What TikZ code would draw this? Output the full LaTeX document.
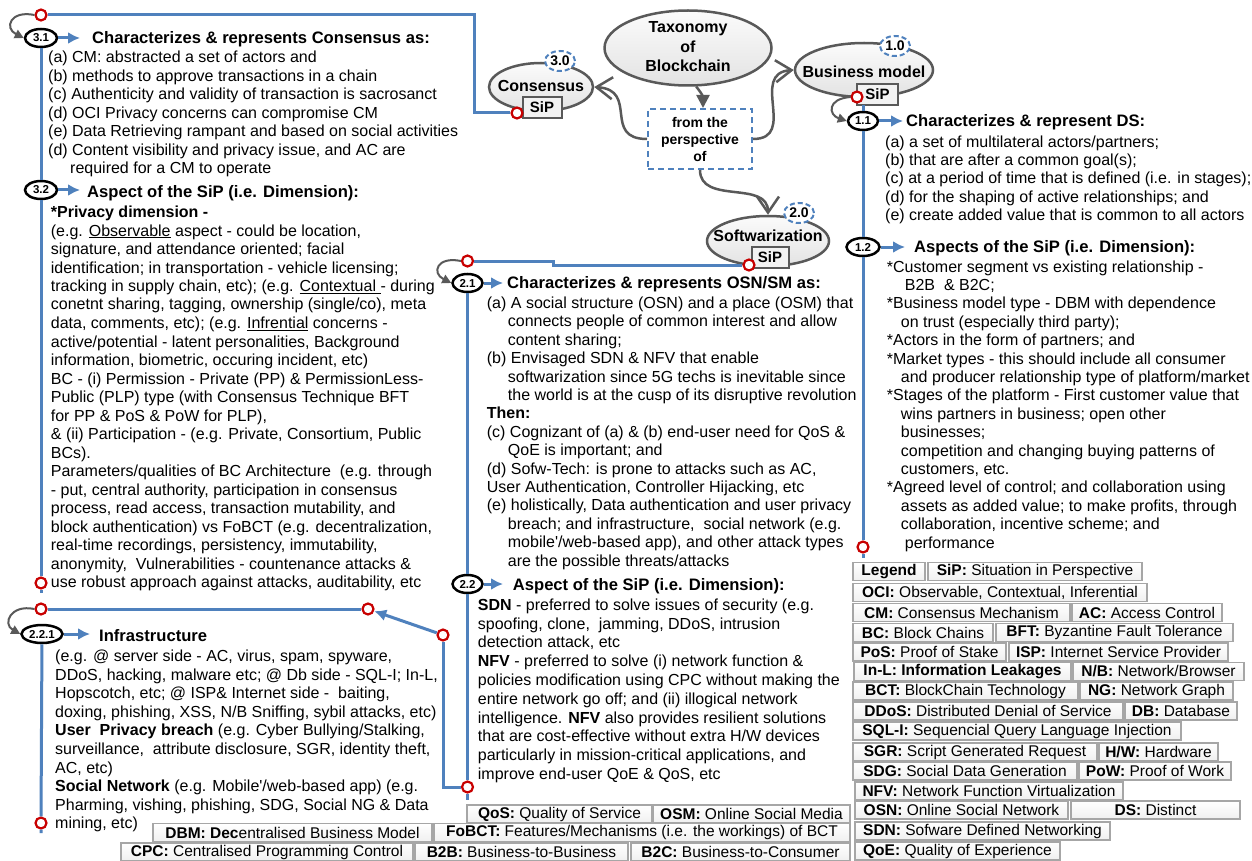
\documentclass[tikz,border=0pt]{standalone}
\usepackage{fontspec}
\setmainfont{Liberation Sans}
\usetikzlibrary{shapes.geometric,arrows.meta}

\definecolor{lnblue}{RGB}{79,129,189}
\definecolor{dkgray}{RGB}{89,89,89}
\definecolor{rcred}{RGB}{200,0,0}

% a left-aligned block of lines whose base anchor is the first baseline
\newcommand\tblock[2][18.5pt]{\vtop{\baselineskip=#1\relax\lineskiplimit=-100pt\lineskip=0pt\let\\\cr\halign{##\hfil\cr#2\crcr}}}
\newcommand\blkindent{\hspace*{21pt}}

\begin{document}
\begin{tikzpicture}[x=1pt,y=-1pt,
  bl/.style={draw=lnblue, line width=3pt},
  barrow/.style={draw=lnblue, line width=3pt, -{Latex[length=12pt,width=12pt]}},
  numnode/.style={ellipse, draw=black, line width=2.5pt, fill=white, inner sep=0pt,
    minimum width=30pt, minimum height=18pt, font=\fontsize{11.5}{11.5}\bfseries\selectfont},
  rc/.style={circle, draw=rcred, line width=2.2pt, fill=white, minimum size=11pt, inner sep=0pt},
  gloop/.style={draw=dkgray, line width=2pt, -{Triangle[length=9pt,width=9pt]}},
  gconn/.style={draw=dkgray, line width=2.5pt},
  mainell/.style={ellipse, draw=dkgray, line width=2.5pt, top color=gray!3, bottom color=gray!22, inner sep=0pt},
  elltxt/.style={inner sep=0pt, align=center, font=\fontsize{16}{19.5}\bfseries\selectfont},
  sip/.style={rectangle, draw=dkgray, line width=2pt, fill=gray!10, inner sep=0pt,
    minimum width=39pt, minimum height=21pt, font=\fontsize{15}{15}\bfseries\selectfont},
  dnum/.style={ellipse, draw=lnblue, dash pattern=on 5pt off 3pt, line width=2pt, fill=white,
    minimum width=30pt, minimum height=20pt, inner sep=0pt, font=\fontsize{14}{14}\bfseries\selectfont},
  persp/.style={rectangle, draw=lnblue, dash pattern=on 6pt off 4pt, line width=2pt, fill=white,
    minimum width=104pt, minimum height=60pt, inner sep=0pt, align=center,
    font=\fontsize{14}{17}\bfseries\selectfont},
  txt/.style={inner sep=0pt, anchor=base west, font=\fontsize{16}{18.5}\selectfont},
  ttl/.style={inner sep=0pt, anchor=base west, font=\fontsize{16.6}{18.5}\bfseries\selectfont},
  leg/.style={rectangle, draw=gray!70, line width=1.5pt, top color=white, bottom color=gray!12,
    inner sep=0pt, minimum height=18pt, font=\fontsize{15.5}{16}\selectfont},
]
\fill[white] (0,0) rectangle (1252,861);
\path[use as bounding box] (0,0) rectangle (1252,861);

% ---------- central taxonomy ----------
\node[mainell, minimum width=167pt, minimum height=75pt] (tax) at (688,48) {};
\node[elltxt] (taxT) at (688,47) {Taxonomy\\of\\Blockchain};
\node[persp] (persp) at (700,139) {from the\\perspective\\of};

\node[mainell, minimum width=104pt, minimum height=48pt] (cons) at (541,87) {};
\node[elltxt] (consT) at (541,85.5) {Consensus};
\node[sip] (sipC) at (542,107.5) {SiP};
\node[dnum] (d30) at (560,61) {3.0};

\node[mainell, minimum width=138pt, minimum height=54pt] (biz) at (864,70) {};
\node[elltxt] (bizT) at (864,71.5) {Business model};
\node[sip, minimum width=41pt] (sipB) at (877.5,94.5) {SiP};
\node[dnum] (d10) at (895,46) {1.0};

\node[mainell, minimum width=122pt, minimum height=50pt] (soft) at (768,241) {};
\node[elltxt] (softT) at (768,236) {Softwarization};
\node[sip, minimum width=37pt] (sipS) at (770,257) {SiP};
\node[dnum] (d20) at (799,213) {2.0};

\draw[gconn, -{Triangle[length=13pt,width=13pt]}] (tax.-78) .. controls +(8,10) and +(0,-10) .. ([xshift=3pt]persp.north);
\draw[gconn, -{Straight Barb[length=16pt,width=22pt]}] (persp.west) .. controls +(-45,0) and +(45,3) .. (cons.east);
\draw[gconn, -{Straight Barb[length=16pt,width=22pt]}] (persp.east) .. controls +(45,0) and +(-45,3) .. (biz.west);
\draw[gconn, -{Straight Barb[length=16pt,width=22pt]}] (persp.south) .. controls +(0,35) and +(0,-35) .. (soft.north);

% ---------- red link points ----------
\node[rc] (rcC) at (517,113) {};
\node[rc] (rcS) at (749,265) {};
\node[rc] (rcB) at (857,97) {};
\node[rc] (rc31) at (41,15) {};
\node[rc] (rcL) at (41,583) {};
\node[rc] (rc221) at (41,609) {};
\node[rc] (rcA) at (443,635) {};
\node[rc] (rcX) at (368,609) {};
\node[rc] (rcM) at (467.5,787) {};
\node[rc] (rc221b) at (41,823) {};
\node[rc] (rc21) at (467.5,261) {};
\node[rc] (rcR) at (863,547) {};

% ---------- numbered steps ----------
\node[numnode, minimum width=32pt] (n31) at (41,38) {3.1};
\node[numnode, minimum width=32pt] (n32) at (41,190) {3.2};
\node[numnode, minimum width=41pt] (n221) at (42,634) {2.2.1};
\node[numnode] (n21) at (467.5,283) {2.1};
\node[numnode] (n22) at (467.5,584) {2.2};
\node[numnode] (n11) at (863,121) {1.1};
\node[numnode, minimum width=33pt] (n12) at (863,247) {1.2};

\coordinate (c1) at (474,60);
\coordinate (c2) at (553,265);
\coordinate (bzTop) at (863,105);
\coordinate (endL) at (41,593);
\coordinate (end221) at (41,833);
\coordinate (endM) at (467.5,800);
\coordinate (endR) at (863,558);
\coordinate (a31) at (80,38);
\coordinate (a32) at (80,190);
\coordinate (a221) at (90,634);
\coordinate (a21) at (503,283);
\coordinate (a22) at (503,584);
\coordinate (a11) at (903,121);
\coordinate (a12) at (905,247);

% blue routing lines
\draw[bl] (rc31) -| (c1) |- (rcC);
\draw[bl] (rcS) -- (c2) |- (rc21);
\draw[bl] (n31) -- (n32) -- (rcL) -- (endL);
\draw[bl] (n221) -- (rc221b) -- (end221);
\draw[bl] (n21) -- (n22) -- (rcM) -- (endM);
\draw[bl] (bzTop) -- (n11) -- (n12) -- (rcR) -- (endR);
\draw[bl] (rcM) -| (rcA);
\draw[barrow] (rcA) -- (rcX);
\draw[bl] (rcX) -- (rc221);

\draw[barrow] (n31) -- (a31);
\draw[barrow] (n32) -- (a32);
\draw[barrow] (n221) -- (a221);
\draw[barrow] (n21) -- (a21);
\draw[barrow] (n22) -- (a22);
\draw[barrow] (n11) -- (a11);
\draw[barrow] (n12) -- (a12);

% grey self loops from a link point to its first step
\draw[gloop] (rc31.west) .. controls +(-24,-5) and +(-20,-10) .. (n31.west);
\draw[gloop] (rc221.west) .. controls +(-24,-5) and +(-18,-10) .. (n221.west);
\draw[gloop] (rc21.west) .. controls +(-24,-5) and +(-20,-10) .. (n21.west);
\draw[gloop] (rcB.west) .. controls +(-24,2) and +(-18,-6) .. (n11.west);

% ---------- headings ----------
\node[ttl] (t31) at (92,44) {Characterizes \& represents Consensus as:};
\node[ttl] (t32) at (87,197) {Aspect of the SiP (i.e. Dimension):};
\node[ttl] (t221) at (99,641) {Infrastructure};
\node[ttl] (t21) at (507,288.3) {Characterizes \& represents OSN/SM as:};
\node[ttl] (t22) at (512.7,590) {Aspect of the SiP (i.e. Dimension):};
\node[ttl] (t11) at (906,126.5) {Characterizes \& represent DS:};
\node[ttl] (t12) at (914,252.5) {Aspects of the SiP (i.e. Dimension):};

% ---------- text blocks ----------
\node[txt] (b31) at (48,63) {\tblock{%
(a) CM: abstracted a set of actors and\\
(b) methods to approve transactions in a chain\\
(c) Authenticity and validity of transaction is sacrosanct\\
(d) OCI Privacy concerns can compromise CM\\
(e) Data Retrieving rampant and based on social activities\\
(d) Content visibility and privacy issue, and AC are\\
\hspace*{22pt}required for a CM to operate}};

\node[txt] (b32) at (50.7,217.5) {\tblock{%
{\bfseries *Privacy dimension -}\\
(e.g. \underline{Observable} aspect - could be location,\\
signature, and attendance oriented; facial\\
identification; in transportation - vehicle licensing;\\
tracking in supply chain, etc); (e.g. \underline{Contextual }- during\\
conetnt sharing, tagging, ownership (single/co), meta\\
data, comments, etc); (e.g. \underline{Infrential} concerns -\\
active/potential - latent personalities, Background\\
information, biometric, occuring incident, etc)\\
BC - (i) Permission - Private (PP) \& PermissionLess-\\
Public (PLP) type (with Consensus Technique BFT\\
for PP \& PoS \& PoW for PLP),\\
\& (ii) Participation - (e.g. Private, Consortium, Public\\
BCs).\\
Parameters/qualities of BC Architecture\ \ (e.g. through\\
- put, central authority, participation in consensus\\
process, read access, transaction mutability, and\\
block authentication) vs FoBCT (e.g. decentralization,\\
real-time recordings, persistency, immutability,\\
anonymity,\ \ Vulnerabilities - countenance attacks \&\\
use robust approach against attacks, auditability, etc}};

\node[txt] (b221) at (55,661.5) {\tblock[18.6pt]{%
(e.g. @ server side - AC, virus, spam, spyware,\\
DDoS, hacking, malware etc; @ Db side - SQL-I; In-L,\\
Hopscotch, etc; @ ISP\& Internet side -\ \ baiting,\\
doxing, phishing, XSS, N/B Sniffing, sybil attacks, etc)\\
{\bfseries User\ \ Privacy breach} (e.g. Cyber Bullying/Stalking,\\
surveillance,\ \ attribute disclosure, SGR, identity theft,\\
AC, etc)\\
{\bfseries Social Network} (e.g. Mobile\textquotesingle/web-based app) (e.g.\\
Pharming, vishing, phishing, SDG, Social NG \& Data\\
mining, etc)}};

\node[txt] (b21) at (486.7,308.5) {\tblock[18.4pt]{%
(a) A social structure (OSN) and a place (OSM) that\\
\blkindent connects people of common interest and allow\\
\blkindent content sharing;\\
(b) Envisaged SDN \& NFV that enable\\
\blkindent softwarization since 5G techs is inevitable since\\
\blkindent the world is at the cusp of its disruptive revolution\\
{\bfseries Then:}\\
(c) Cognizant of (a) \& (b) end-user need for QoS \&\\
\blkindent QoE is important; and\\
(d) Sofw-Tech: is prone to attacks such as AC,\\
User Authentication, Controller Hijacking, etc\\
(e) holistically, Data authentication and user privacy\\
\blkindent breach; and infrastructure,\ \ social network (e.g.\\
\blkindent mobile\textquotesingle/web-based app), and other attack types\\
\blkindent are the possible threats/attacks}};

\node[txt] (b22) at (477.7,610.3) {\tblock[18.8pt]{%
{\bfseries SDN} - preferred to solve issues of security (e.g.\\
spoofing, clone,\ \ jamming, DDoS, intrusion\\
detection attack, etc\\
{\bfseries NFV} - preferred to solve (i) network function \&\\
policies modification using CPC without making the\\
entire network go off; and (ii) illogical network\\
intelligence. {\bfseries NFV} also provides resilient solutions\\
that are cost-effective without extra H/W devices\\
particularly in mission-critical applications, and\\
improve end-user QoE \& QoS, etc}};

\node[txt] (b11) at (885,147.5) {\tblock[18.2pt]{%
(a) a set of multilateral actors/partners;\\
(b) that are after a common goal(s);\\
(c) at a period of time that is defined (i.e. in stages);\\
(d) for the shaping of active relationships; and\\
(e) create added value that is common to all actors}};

\node[txt] (b12) at (886.7,272) {\tblock[18.4pt]{%
*Customer segment vs existing relationship -\\
\hspace*{18pt}B2B\ \ \& B2C;\\
*Business model type - DBM with dependence\\
\hspace*{14pt}on trust (especially third party);\\
*Actors in the form of partners; and\\
*Market types - this should include all consumer\\
\hspace*{14pt}and producer relationship type of platform/market\\
*Stages of the platform - First customer value that\\
\hspace*{14pt}wins partners in business; open other\\
\hspace*{14pt}businesses;\\
\hspace*{14pt}competition and changing buying patterns of\\
\hspace*{14pt}customers, etc.\\
*Agreed level of control; and collaboration using\\
\hspace*{14pt}assets as added value; to make profits, through\\
\hspace*{14pt}collaboration, incentive scheme; and\\
\hspace*{18pt}performance}};

% ---------- legend ----------
\node[leg, minimum width=72pt]  (lgA) at (889,571.5) {\textbf{Legend}};
\node[leg, minimum width=214pt] (lgSiP) at (1035,571.5) {\textbf{SiP:} Situation in Perspective};
\node[leg, minimum width=294pt] (lgOCI) at (1000,592.5) {\textbf{OCI:} Observable, Contextual, Inferential};
\node[leg, minimum width=217pt] (lgCM) at (961.5,612.5) {\textbf{CM:} Consensus Mechanism};
\node[leg, minimum width=150pt] (lgAC) at (1147,612.5) {\textbf{AC:} Access Control};
\node[leg, minimum width=140pt] (lgBC) at (923,632.5) {\textbf{BC:} Block Chains};
\node[leg, minimum width=237pt] (lgBFT) at (1114.5,632.5) {\textbf{BFT:} Byzantine Fault Tolerance};
\node[leg, minimum width=153pt] (lgPoS) at (929.5,652) {\textbf{PoS:} Proof of Stake};
\node[leg, minimum width=219pt] (lgISP) at (1118.5,652) {\textbf{ISP:} Internet Service Provider};
\node[leg, minimum width=217pt] (lgInL) at (962.5,671.5) {\textbf{In-L: Information Leakages}};
\node[leg, minimum width=171pt] (lgNB) at (1158.5,671.5) {\textbf{N/B:} Network/Browser};
\node[leg, minimum width=225pt] (lgBCT) at (965.5,691) {\textbf{BCT:} BlockChain Technology};
\node[leg, minimum width=153pt] (lgNG) at (1156.5,691) {\textbf{NG:} Network Graph};
\node[leg, minimum width=270pt] (lgDDoS) at (988,711) {\textbf{DDoS:} Distributed Denial of Service};
\node[leg, minimum width=112pt] (lgDB) at (1181,711) {\textbf{DB:} Database};
\node[leg, minimum width=328pt] (lgSQL) at (1017,731) {\textbf{SQL-I:} Sequencial Query Language Injection};
\node[leg, minimum width=244pt] (lgSGR) at (975,752) {\textbf{SGR:} Script Generated Request};
\node[leg, minimum width=119pt] (lgHW) at (1158.5,752) {\textbf{H/W:} Hardware};
\node[leg, minimum width=224pt] (lgSDG) at (965,771) {\textbf{SDG:} Social Data Generation};
\node[leg, minimum width=152pt] (lgPoW) at (1155,771) {\textbf{PoW:} Proof of Work};
\node[leg, minimum width=268pt] (lgNFV) at (989,791) {\textbf{NFV:} Network Function Virtualization};
\node[leg, minimum width=213pt] (lgOSN) at (961.5,810) {\textbf{OSN:} Online Social Network};
\node[leg, minimum width=169pt] (lgDS) at (1155.5,810) {\textbf{DS:} Distinct};
\node[leg, minimum width=255pt] (lgSDN) at (982.5,831) {\textbf{SDN:} Sofware Defined Networking};
\node[leg, minimum width=205pt] (lgQoE) at (957.5,851) {\textbf{QoE:} Quality of Experience};

\node[leg, minimum width=185pt] (lgQoS) at (559.5,814) {\textbf{QoS:} Quality of Service};
\node[leg, minimum width=197pt] (lgOSM) at (751.5,814) {\textbf{OSM:} Online Social Media};
\node[leg, minimum width=279pt] (lgDBM) at (292.5,832.5) {\textbf{DBM: Dec}entralised Business Model};
\node[leg, minimum width=416pt] (lgFoBCT) at (642,832.5) {\textbf{FoBCT:} Features/Mechanisms (i.e. the workings) of BCT};
\node[leg, minimum width=292pt] (lgCPC) at (267,852) {\textbf{CPC:} Centralised Programming Control};
\node[leg, minimum width=213pt] (lgB2B) at (521.5,852) {\textbf{B2B:} Business-to-Business};
\node[leg, minimum width=219pt] (lgB2C) at (740.5,852) {\textbf{B2C:} Business-to-Consumer};
\end{tikzpicture}
\end{document}
